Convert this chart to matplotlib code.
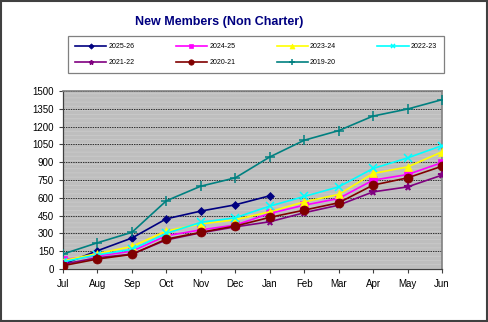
import matplotlib
matplotlib.use('Agg')
import matplotlib.pyplot as plt
from matplotlib.patches import Rectangle

plt.rcParams['font.family'] = ['Liberation Sans', 'DejaVu Sans']

MONTHS = ['Jul', 'Aug', 'Sep', 'Oct', 'Nov', 'Dec', 'Jan', 'Feb', 'Mar', 'Apr', 'May', 'Jun']

# series values
FY_2025_26 = [40, 154, 261, 423, 488, 541, 617]
FY_2024_25 = [80, 110, 150, 280, 330, 370, 468, 538, 594, 749, 796, 897]
FY_2023_24 = [70, 130, 190, 320, 380, 415, 482, 566, 628, 805, 860, 987]
FY_2022_23 = [60, 120, 165, 300, 393, 432, 530, 611, 692, 847, 936, 1040]
FY_2021_22 = [40, 95, 125, 245, 305, 355, 398, 474, 538, 650, 692, 791]
FY_2020_21 = [28, 84, 123, 252, 309, 362, 435, 496, 558, 707, 768, 866]
FY_2019_20 = [126, 221, 309, 575, 698, 768, 944, 1085, 1166, 1289, 1348, 1427]

SERIES = [
    ('2025-26', FY_2025_26, '#000080', 'D', 4.5),
    ('2024-25', FY_2024_25, '#FF00FF', 's', 5.5),
    ('2023-24', FY_2023_24, '#FFFF00', '^', 6),
    ('2022-23', FY_2022_23, '#00FFFF', 'x', 5.5),
    ('2021-22', FY_2021_22, '#800080', '*', 5.5),
    ('2020-21', FY_2020_21, '#800000', 'o', 6.5),
    ('2019-20', FY_2019_20, '#008080', '+', 6.5),
]

W, H = 488, 322
fig = plt.figure(figsize=(W / 100, H / 100), dpi=100)
fig.patches.append(Rectangle((0.002, 0.003), 0.995, 0.993, transform=fig.transFigure,
                             fill=False, edgecolor='#404040', linewidth=1.5))

ax = fig.add_axes([63 / W, 1 - 269 / H, (442 - 63) / W, (269 - 91) / H])
ax.set_facecolor('#BEBEBE')
# fine horizontal stripes like the excel fill
plt.rcParams['hatch.linewidth'] = 0.6
ax.add_patch(Rectangle((0, 0), 1, 1, transform=ax.transAxes, facecolor='none',
                       edgecolor='#CACACA', hatch='----', linewidth=0, zorder=0))

x = list(range(len(MONTHS)))
handles = []
for label, vals, color, marker, ms in SERIES:
    mew = 1.1 if marker in ('x', '+', '*') else 0.5
    line, = ax.plot(x[:len(vals)], vals, color=color, marker=marker, markersize=ms,
                    markeredgecolor=color, markeredgewidth=mew, linewidth=1.2, label=label,
                    zorder=3)
    handles.append(line)

ax.set_xlim(0, len(MONTHS) - 1)
ax.set_ylim(0, 1500)
ax.set_yticks(range(0, 1501, 150))
ax.set_xticks(x)
ax.set_xticklabels(MONTHS)
ax.tick_params(axis='both', labelsize=7, direction='out', length=3, width=0.8, color='#404040')
ax.tick_params(axis='x', pad=4)
ax.yaxis.grid(True, linestyle=(0, (1.5, 1)), color='#303030', linewidth=0.7)
ax.set_axisbelow(True)
for side in ('top', 'right'):
    ax.spines[side].set_color('#808080')
    ax.spines[side].set_linewidth(1.2)
for side in ('left', 'bottom'):
    ax.spines[side].set_color('#404040')
    ax.spines[side].set_linewidth(0.9)

fig.text(219 / W, 1 - 22 / H, 'New Members (Non Charter)', ha='center', va='center',
         fontsize=9, fontweight='bold', color='#000080')

# legend reads row by row in the reference; matplotlib fills column by column
order = [0, 4, 1, 5, 2, 6, 3]
leg = fig.legend(handles=[handles[i] for i in order], loc='lower left',
                 bbox_to_anchor=(68 / W, 1 - 73 / H, (444 - 68) / W, (73 - 36) / H),
                 mode='expand', ncol=4, fontsize=5, frameon=True, fancybox=False,
                 edgecolor='#606060', handlelength=4.5, markerscale=0.6,
                 borderaxespad=0, borderpad=1.0, labelspacing=1.3, handletextpad=0.3)
leg.get_frame().set_linewidth(0.9)

fig.savefig('out.png', dpi=100)
